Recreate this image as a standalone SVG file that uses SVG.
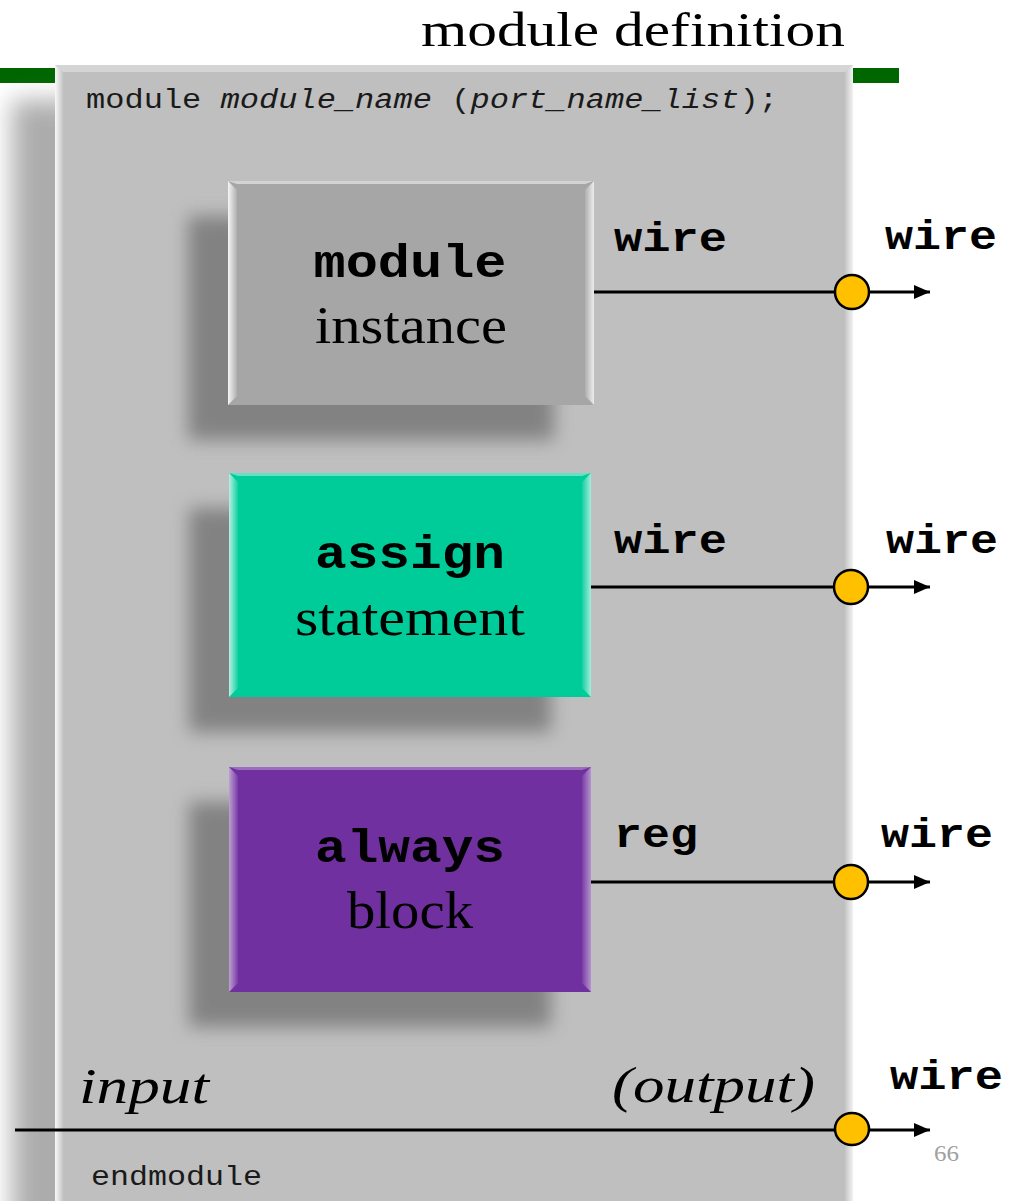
<svg xmlns="http://www.w3.org/2000/svg" width="1019" height="1201" viewBox="0 0 1019 1201">
<defs>
<style>
.title{font-family:"Liberation Serif",serif;font-size:48px;fill:#000}
.code{font-family:"Liberation Mono",monospace;font-size:27px;fill:#1a1a1a}
.kw{font-family:"Liberation Mono",monospace;font-weight:bold;font-size:46px;fill:#000}
.lbl{font-family:"Liberation Mono",monospace;font-weight:bold;font-size:40px;fill:#000}
.sub{font-family:"Liberation Serif",serif;font-size:52px;fill:#000}
.it{font-family:"Liberation Serif",serif;font-style:italic;font-size:50px;fill:#000}
.wire{stroke:#000;stroke-width:3;fill:none}
.port{fill:#ffc000;stroke:#000;stroke-width:2.5}
</style>
<filter id="sh" x="-30%" y="-30%" width="160%" height="160%">
<feGaussianBlur stdDeviation="9"/>
</filter>
<filter id="shBig" x="-20%" y="-10%" width="140%" height="120%">
<feGaussianBlur stdDeviation="12"/>
</filter>
<marker id="arr" viewBox="0 0 16 14" refX="16" refY="7" markerWidth="16" markerHeight="14" markerUnits="userSpaceOnUse" orient="auto">
<path d="M0,0 L16,7 L0,14 z" fill="#000"/>
</marker>
<linearGradient id="bevL" x1="0" x2="1" y1="0" y2="0">
<stop offset="0" stop-color="#ffffff" stop-opacity="0.9"/>
<stop offset="1" stop-color="#ffffff" stop-opacity="0.1"/>
</linearGradient>
<linearGradient id="bevR" x1="0" x2="1" y1="0" y2="0">
<stop offset="0" stop-color="#ffffff" stop-opacity="0.1"/>
<stop offset="1" stop-color="#ffffff" stop-opacity="0.8"/>
</linearGradient>
</defs>
<rect width="1019" height="1201" fill="#ffffff"/>

<text class="title" x="421" y="46" textLength="424" lengthAdjust="spacingAndGlyphs">module definition</text>

<g id="node-module-definition">
<rect x="0" y="68" width="899" height="15" fill="#006600"/>
<rect x="12" y="100" width="798" height="1140" fill="#8a8a8a" filter="url(#shBig)" opacity="0.7"/>
<rect x="55" y="65" width="798" height="1150" fill="#bfbfbf"/>
<polygon points="55,65 63,72 63,1215 55,1215" fill="url(#bevL)"/>
<polygon points="853,65 845,72 845,1215 853,1215" fill="url(#bevR)"/>
<polygon points="55,65 853,65 845,72 63,72" fill="#ffffff" opacity="0.35"/>
<text class="code" x="86" y="108" textLength="692" lengthAdjust="spacingAndGlyphs">module <tspan font-style="italic">module_name</tspan> (<tspan font-style="italic">port_name_list</tspan>);</text>
<text class="code" x="91" y="1185" textLength="171" lengthAdjust="spacingAndGlyphs">endmodule</text>
</g>

<g id="node-module-instance">
<rect x="188" y="216" width="366" height="224" fill="#6e6e6e" filter="url(#sh)" opacity="0.75"/>
<rect x="228" y="181" width="366" height="224" fill="#a6a6a6"/>
<polygon points="228,181 237,190 237,396 228,405" fill="url(#bevL)"/>
<polygon points="594,181 585,190 585,396 594,405" fill="url(#bevR)"/>
<polygon points="228,181 594,181 585,184 237,184" fill="#ffffff" opacity="0.5"/>
<text class="kw" x="410" y="277" text-anchor="middle" textLength="193" lengthAdjust="spacingAndGlyphs">module</text>
<text class="sub" x="411" y="343" text-anchor="middle" textLength="192" lengthAdjust="spacingAndGlyphs">instance</text>
</g>

<g id="node-assign">
<rect x="189" y="508" width="362" height="224" fill="#6e6e6e" filter="url(#sh)" opacity="0.75"/>
<rect x="229" y="473" width="362" height="224" fill="#00cc99"/>
<polygon points="229,473 238,482 238,688 229,697" fill="url(#bevL)" opacity="0.8"/>
<polygon points="591,473 582,482 582,688 591,697" fill="url(#bevR)" opacity="0.8"/>
<polygon points="229,473 591,473 582,476 238,476" fill="#ffffff" opacity="0.4"/>
<text class="kw" x="410" y="568" text-anchor="middle" textLength="190" lengthAdjust="spacingAndGlyphs">assign</text>
<text class="sub" x="410" y="635" text-anchor="middle" textLength="230" lengthAdjust="spacingAndGlyphs">statement</text>
</g>

<g id="node-always">
<rect x="189" y="802" width="362" height="225" fill="#6e6e6e" filter="url(#sh)" opacity="0.75"/>
<rect x="229" y="767" width="362" height="225" fill="#7030a0"/>
<polygon points="229,767 238,776 238,983 229,992" fill="url(#bevL)" opacity="0.6"/>
<polygon points="591,767 582,776 582,983 591,992" fill="url(#bevR)" opacity="0.6"/>
<polygon points="229,767 591,767 582,770 238,770" fill="#ffffff" opacity="0.3"/>
<text class="kw" x="410" y="862" text-anchor="middle" textLength="190" lengthAdjust="spacingAndGlyphs">always</text>
<text class="sub" x="410" y="928" text-anchor="middle" textLength="126" lengthAdjust="spacingAndGlyphs">block</text>
</g>

<g id="connectors">
<line class="wire" x1="594" y1="292" x2="835" y2="292"/>
<line class="wire" x1="869" y1="292" x2="930" y2="292" marker-end="url(#arr)"/>
<circle class="port" cx="852" cy="292" r="17"/>
<line class="wire" x1="591" y1="587" x2="835" y2="587"/>
<line class="wire" x1="869" y1="587" x2="930" y2="587" marker-end="url(#arr)"/>
<circle class="port" cx="851" cy="587" r="17"/>
<line class="wire" x1="591" y1="882" x2="835" y2="882"/>
<line class="wire" x1="869" y1="882" x2="930" y2="882" marker-end="url(#arr)"/>
<circle class="port" cx="851" cy="882" r="17"/>
<line class="wire" x1="15" y1="1130" x2="835" y2="1130"/>
<line class="wire" x1="869" y1="1130" x2="930" y2="1130" marker-end="url(#arr)"/>
<ellipse class="port" cx="852" cy="1129" rx="17" ry="16"/>
</g>

<g id="labels">
<text class="lbl" x="614" y="251" textLength="113" lengthAdjust="spacingAndGlyphs">wire</text>
<text class="lbl" x="885" y="249" textLength="112" lengthAdjust="spacingAndGlyphs">wire</text>
<text class="lbl" x="614" y="553" textLength="113" lengthAdjust="spacingAndGlyphs">wire</text>
<text class="lbl" x="886" y="553" textLength="112" lengthAdjust="spacingAndGlyphs">wire</text>
<text class="lbl" x="614" y="847" textLength="84" lengthAdjust="spacingAndGlyphs">reg</text>
<text class="lbl" x="881" y="847" textLength="112" lengthAdjust="spacingAndGlyphs">wire</text>
<text class="lbl" x="890" y="1089" textLength="113" lengthAdjust="spacingAndGlyphs">wire</text>
<text class="it" x="79" y="1103" textLength="130" lengthAdjust="spacingAndGlyphs">input</text>
<text class="it" x="612" y="1102" textLength="203" lengthAdjust="spacingAndGlyphs">(output)</text>
<text x="934" y="1161" font-family="Liberation Serif, serif" font-size="24" fill="#a0a0a0" textLength="25" lengthAdjust="spacingAndGlyphs">66</text>
</g>
</svg>
